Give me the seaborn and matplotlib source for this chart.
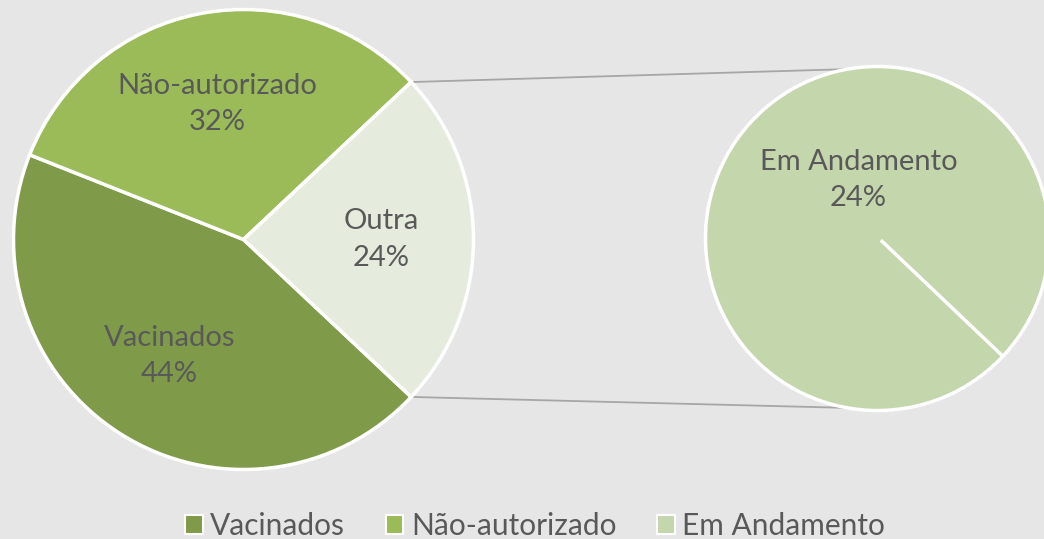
import numpy as np
import matplotlib
matplotlib.use("Agg")
import matplotlib.pyplot as plt
from matplotlib.patches import ConnectionPatch, Patch
import seaborn as sns

# main pie: share of each group (%)
main_labels = ["Vacinados", "Não-autorizado", "Outra"]
main_values = [44, 32, 24]
# secondary pie: breakdown of "Outra"
sub_labels = ["Em Andamento"]
sub_values = [24]
legend_labels = ["Vacinados", "Não-autorizado", "Em Andamento"]

main_colors = ["#7f9b4a", "#9bbb59", "#e6ecdd"]
sub_colors = ["#c4d6ac"]
bg = "#e6e6e6"
txt = "#595959"

sns.set_theme(style="white", rc={"figure.facecolor": bg, "axes.facecolor": bg})
plt.rcParams["font.family"] = ["Lato", "DejaVu Sans"]

W, H = 1044, 539
fig = plt.figure(figsize=(W / 100, H / 100), dpi=100)
pad = 1.01


def pie_axes(cx, cy, r):
    hw = r * pad
    ax = fig.add_axes([(cx - hw) / W, (H - cy - hw) / H, 2 * hw / W, 2 * hw / H])
    ax.set_xlim(-pad, pad)
    ax.set_ylim(-pad, pad)
    ax.set_aspect("equal")
    ax.axis("off")
    return ax


ax1 = pie_axes(243.5, 239.5, 230)
ax2 = pie_axes(877.5, 238.5, 172)

half = main_values[-1] / sum(main_values) * 180
start = -half
wp = dict(edgecolor="white", linewidth=2.5)
tp = dict(color=txt, fontsize=21, ha="center", va="center", linespacing=1.5)

ax1.pie(main_values, colors=main_colors, startangle=start, counterclock=False,
        wedgeprops=wp, radius=1,
        labels=[f"{l}\n{v}%" for l, v in zip(main_labels, main_values)],
        labeldistance=0.6, textprops=tp)
ax1.set_xlim(-pad, pad)
ax1.set_ylim(-pad, pad)

ax2.pie(sub_values, colors=sub_colors, startangle=start, counterclock=False,
        wedgeprops=wp, radius=1)
a = np.deg2rad(start)
ax2.plot([0.02, np.cos(a)], [-0.01, np.sin(a)], color="white", lw=2.5,
         solid_capstyle="butt")
ax2.text(-0.11, 0.34, f"{sub_labels[0]}\n{sub_values[0]}%", **tp)
ax2.set_xlim(-pad, pad)
ax2.set_ylim(-pad, pad)

# connector lines between the "Outra" slice and the second pie
h = np.deg2rad(half)
b = np.deg2rad(100)
for s in (1, -1):
    con = ConnectionPatch(xyA=(np.cos(h), s * np.sin(h)), coordsA=ax1.transData,
                          xyB=(np.cos(b), s * np.sin(b)), coordsB=ax2.transData,
                          color="#a6a6a6", lw=1.3)
    con.set_zorder(0)
    fig.add_artist(con)

handles = [Patch(facecolor=c, edgecolor="white", linewidth=1.5)
           for c in [main_colors[0], main_colors[1], sub_colors[0]]]
leg = fig.legend(handles, legend_labels, loc="center", ncol=3,
                 bbox_to_anchor=(535 / W, 1 - 526 / H), frameon=False,
                 handlelength=0.6, handleheight=0.6, handletextpad=0.25,
                 columnspacing=1.35, fontsize=21.5, borderpad=0)
for t in leg.get_texts():
    t.set_color(txt)

fig.savefig("out.png", dpi=100, facecolor=bg)
